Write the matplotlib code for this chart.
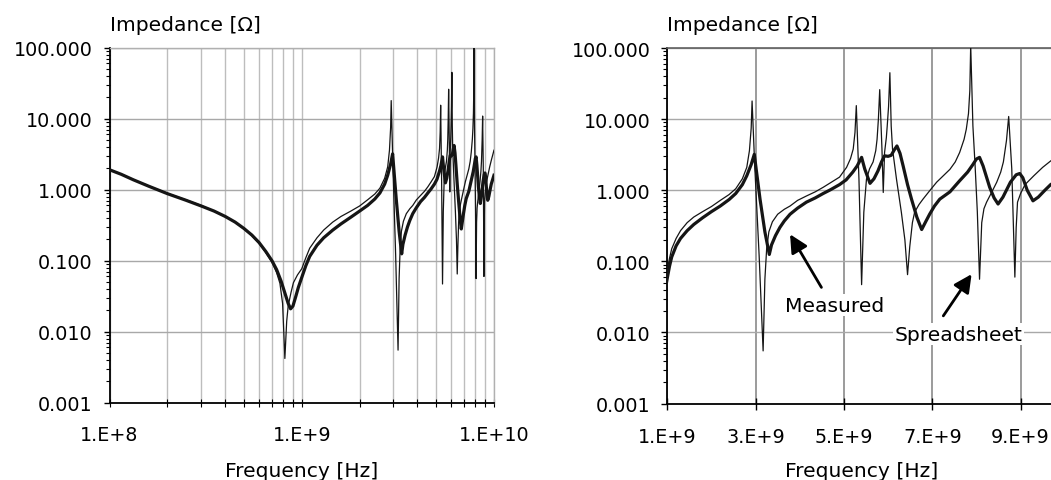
import matplotlib
matplotlib.use('Agg')
import matplotlib.pyplot as plt
from matplotlib.ticker import FixedLocator, FixedFormatter, LogLocator, NullFormatter

# values: frequency [GHz], impedance [ohm]
meas_ghz = [0.10, 0.115, 0.133, 0.16, 0.20, 0.25, 0.30, 0.35, 0.40, 0.45, 0.50, 0.55,
            0.60, 0.65, 0.70, 0.74, 0.78, 0.82, 0.85, 0.875, 0.90, 0.93, 0.96,
            1.00, 1.05, 1.10, 1.20, 1.30, 1.45, 1.60, 1.80, 2.00, 2.20, 2.40, 2.55,
            2.70, 2.80, 2.90, 2.97, 3.10, 3.21, 3.31, 3.36, 3.45, 3.55, 3.65, 3.78,
            3.95, 4.15, 4.35, 4.53, 4.70, 4.90, 5.05, 5.20, 5.30, 5.40, 5.47, 5.59,
            5.68, 5.77, 5.85, 5.92, 6.00, 6.07, 6.14, 6.20, 6.27, 6.34, 6.44, 6.53,
            6.65, 6.76, 6.85, 6.94, 7.05, 7.17, 7.40, 7.62, 7.80, 7.92, 8.00, 8.07,
            8.15, 8.30, 8.40, 8.49, 8.60, 8.77, 8.90, 8.98, 9.05, 9.15, 9.28, 9.40,
            9.55, 9.68, 10.0]
meas_ohm = [1.91, 1.65, 1.38, 1.12, 0.88, 0.71, 0.59, 0.50, 0.42, 0.35, 0.285, 0.23,
            0.18, 0.135, 0.10, 0.075, 0.052, 0.034, 0.025, 0.021, 0.023, 0.031, 0.042,
            0.058, 0.085, 0.115, 0.165, 0.21, 0.27, 0.33, 0.41, 0.50, 0.60, 0.74, 0.90,
            1.2, 1.6, 2.3, 3.2, 0.75, 0.26, 0.125, 0.17, 0.23, 0.30, 0.37, 0.46,
            0.56, 0.68, 0.78, 0.90, 1.02, 1.2, 1.4, 1.8, 2.2, 2.9, 2.0, 1.25,
            1.45, 1.87, 2.5, 3.05, 3.0, 3.1, 3.7, 4.2, 3.3, 2.2, 1.2, 0.75,
            0.42, 0.28, 0.36, 0.46, 0.60, 0.75, 0.95, 1.36, 1.8, 2.3, 2.75, 2.9,
            2.2, 1.1, 0.78, 0.64, 0.80, 1.3, 1.65, 1.72, 1.5, 1.0, 0.71, 0.80,
            1.0, 1.2, 1.6]

sheet_ghz = [0.10, 0.115, 0.133, 0.16, 0.20, 0.25, 0.30, 0.35, 0.40, 0.45, 0.50, 0.55,
             0.60, 0.65, 0.70, 0.74, 0.77, 0.795, 0.817, 0.835, 0.85, 0.88, 0.905,
             0.95, 1.00, 1.05, 1.10, 1.20, 1.30, 1.45, 1.60, 1.80, 2.00, 2.20, 2.40,
             2.55, 2.70, 2.80, 2.86, 2.90, 2.92, 2.98, 3.08, 3.17, 3.21, 3.25, 3.30,
             3.38, 3.50, 3.65, 3.78, 3.95, 4.15, 4.35, 4.53, 4.70, 4.90, 5.06, 5.15,
             5.21, 5.25, 5.28, 5.34, 5.40, 5.45, 5.51, 5.58, 5.66, 5.72, 5.75, 5.78,
             5.81, 5.86, 5.89, 5.92, 5.96, 5.98, 6.01, 6.04, 6.07, 6.10, 6.19, 6.30,
             6.38, 6.44, 6.49, 6.55, 6.60, 6.70, 6.79, 6.95, 7.10, 7.25, 7.40, 7.52,
             7.62, 7.72, 7.77, 7.82, 7.85, 7.87, 7.92, 7.97, 8.02, 8.07, 8.12, 8.17,
             8.23, 8.35, 8.46, 8.55, 8.61, 8.68, 8.73, 8.80, 8.87, 8.90, 8.93, 9.00,
             9.10, 9.30, 9.50, 9.68, 10.0]
sheet_ohm = [1.93, 1.66, 1.39, 1.13, 0.89, 0.72, 0.60, 0.50, 0.42, 0.35, 0.28, 0.225,
             0.175, 0.13, 0.095, 0.068, 0.048, 0.025, 0.0042, 0.014, 0.023, 0.036, 0.049,
             0.063, 0.077, 0.11, 0.15, 0.21, 0.27, 0.35, 0.42, 0.50, 0.59, 0.72, 0.87,
             1.05, 1.45, 2.1, 3.6, 7.5, 18, 2.2, 0.12, 0.0055, 0.056, 0.15, 0.26,
             0.36, 0.46, 0.54, 0.60, 0.72, 0.83, 0.95, 1.1, 1.28, 1.53, 2.1, 2.8,
             3.8, 6.5, 15.5, 1.43, 0.047, 0.49, 1.43, 2.0, 2.5, 3.6, 5.2, 10,
             26, 3.9, 0.93, 3.4, 5.5, 8, 15, 45, 8, 3.8, 1.43, 0.49,
             0.2, 0.065, 0.16, 0.35, 0.49, 0.63, 0.75, 1.0, 1.3, 1.6, 1.97, 2.5,
             3.4, 5.2, 7.2, 12, 25, 110, 8, 2.2, 0.5, 0.056, 0.35, 0.55,
             0.68, 0.95, 1.3, 1.8, 2.5, 5, 10.9, 2.0, 0.06, 0.3, 0.68, 0.9,
             1.2, 1.6, 2.1, 2.58, 3.6]

y_ticks = [0.001, 0.01, 0.1, 1, 10, 100]
y_labels = ['0.001', '0.010', '0.100', '1.000', '10.000', '100.000']
left_xticks = [1e8, 1e9, 1e10]
left_xlabels = ['1.E+8', '1.E+9', '1.E+10']
right_xticks = [1e9, 3e9, 5e9, 7e9, 9e9]
right_xlabels = ['1.E+9', '3.E+9', '5.E+9', '7.E+9', '9.E+9']

fs = 13.8
fs_title = 14.6
ink = '#151515'

meas_hz = [f * 1e9 for f in meas_ghz]
sheet_hz = [f * 1e9 for f in sheet_ghz]

fig = plt.figure(figsize=(10.51, 4.81), dpi=100)
ax1 = fig.add_axes([0.1042, 0.1607, 0.3658, 0.738])
ax2 = fig.add_axes([0.6349, 0.1590, 0.3782, 0.739])

for ax in (ax1, ax2):
    ax.plot(sheet_hz, sheet_ohm, color=ink, lw=0.9, zorder=3)
    ax.plot(meas_hz, meas_ohm, color=ink, lw=2.3, zorder=4)
    ax.set_yscale('log')
    ax.set_ylim(1e-3, 100)
    ax.yaxis.set_major_locator(FixedLocator(y_ticks))
    ax.yaxis.set_major_formatter(FixedFormatter(y_labels))
    ax.yaxis.set_minor_locator(LogLocator(base=10, subs=range(2, 10), numticks=20))
    ax.yaxis.set_minor_formatter(NullFormatter())
    ax.tick_params(axis='y', which='major', direction='out', length=4, width=1,
                   pad=8, labelsize=fs)
    ax.tick_params(axis='y', which='minor', direction='out', length=3, width=0.8)
    for s in ('left', 'bottom'):
        ax.spines[s].set_linewidth(1.3)
        ax.spines[s].set_color('black')
    ax.set_axisbelow(True)

# left panel: log frequency
ax1.set_xscale('log')
ax1.set_xlim(1e8, 1e10)
ax1.xaxis.set_major_locator(FixedLocator(left_xticks))
ax1.xaxis.set_major_formatter(FixedFormatter(left_xlabels))
ax1.xaxis.set_minor_locator(LogLocator(base=10, subs=range(2, 10), numticks=20))
ax1.xaxis.set_minor_formatter(NullFormatter())
ax1.tick_params(axis='x', which='both', direction='inout', length=6, width=0.8,
                pad=13, labelsize=fs)
ax1.grid(which='both', axis='x', color='#bdbdbd', lw=1)
ax1.grid(which='major', axis='y', color='#a8a8a8', lw=1)
for s in ('top', 'right'):
    ax1.spines[s].set_color('#b0b0b0')
    ax1.spines[s].set_linewidth(1)

# right panel: linear frequency
ax2.set_xlim(1e9, 1e10)
ax2.xaxis.set_major_locator(FixedLocator(right_xticks))
ax2.xaxis.set_major_formatter(FixedFormatter(right_xlabels))
ax2.tick_params(axis='x', which='major', direction='inout', length=8, width=1,
                pad=13, labelsize=fs)
ax2.grid(which='major', axis='x', color='#808080', lw=1.1)
ax2.grid(which='major', axis='y', color='#a8a8a8', lw=1)
ax2.spines['top'].set_color('#606060')
ax2.spines['top'].set_linewidth(1.2)
ax2.spines['right'].set_visible(False)

# axis titles
fig.text(110 / 1051, 1 - 31 / 481, 'Impedance [Ω]', fontsize=fs_title, va='baseline', ha='left')
fig.text(667 / 1051, 1 - 31 / 481, 'Impedance [Ω]', fontsize=fs_title, va='baseline', ha='left')
fig.text(302 / 1051, 1 - 477 / 481, 'Frequency [Hz]', fontsize=fs_title, va='baseline', ha='center')
fig.text(862 / 1051, 1 - 477 / 481, 'Frequency [Hz]', fontsize=fs_title, va='baseline', ha='center')

# labels with arrows
arrow = dict(arrowstyle='-|>', lw=2, color='black', mutation_scale=27,
             shrinkA=0, shrinkB=0)
ax2.annotate('', xy=(3.78e9, 0.24), xytext=(4.49e9, 0.043), arrowprops=arrow, zorder=5)
ax2.annotate('', xy=(7.89e9, 0.066), xytext=(7.25e9, 0.0171), arrowprops=arrow, zorder=5)
ax2.text(4.79e9, 0.024, 'Measured', fontsize=fs_title, ha='center', va='center', zorder=6,
         bbox=dict(facecolor='white', edgecolor='none', pad=1))
ax2.text(7.60e9, 0.0094, 'Spreadsheet', fontsize=fs_title, ha='center', va='center', zorder=6,
         bbox=dict(facecolor='white', edgecolor='none', pad=1))

plt.savefig('out.png', dpi=100)
